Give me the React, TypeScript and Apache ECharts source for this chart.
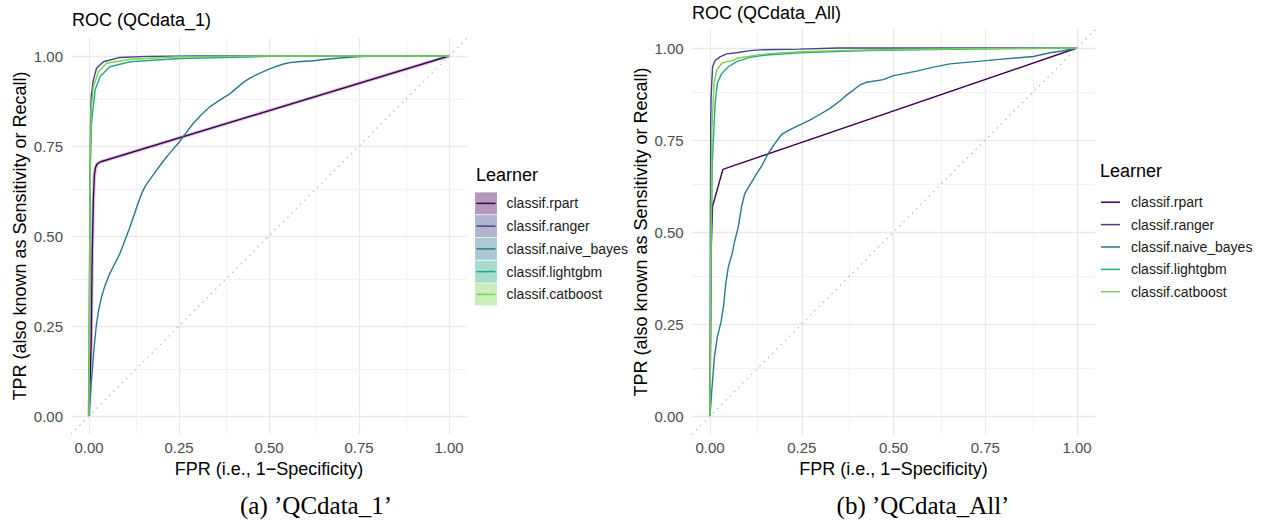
import React, { useEffect, useRef } from "react";
import * as echarts from "echarts";

const learners = [
  "classif.rpart",
  "classif.ranger",
  "classif.naive_bayes",
  "classif.lightgbm",
  "classif.catboost",
];
const learnerColors = ["#440154", "#414487", "#2A788E", "#22A884", "#7AD151"];
const learnerFills = [
  "rgba(68,1,84,0.4)",
  "rgba(65,68,135,0.4)",
  "rgba(42,120,142,0.4)",
  "rgba(34,168,132,0.4)",
  "rgba(122,209,81,0.4)",
];
const majorTicks = [0, 0.25, 0.5, 0.75, 1];
const minorTicks = [0.125, 0.375, 0.625, 0.875];
const diagonal = [
  [-0.05, -0.05],
  [1.05, 1.05],
];

// Panel (a) QCdata_1 : [FPR, TPR]
const q1Rpart = [[0, 0], [0.006, 0.2], [0.009, 0.45], [0.012, 0.6], [0.015, 0.67], [0.018, 0.69], [0.022, 0.699], [0.028, 0.704], [0.035, 0.707], [1, 1]];
const q1Ranger = [[0, 0], [0.002, 0.5], [0.004, 0.8], [0.006, 0.887], [0.012, 0.933], [0.021, 0.966], [0.04, 0.984], [0.086, 0.996], [0.16, 0.999], [0.3, 1], [1, 1]];
const q1NaiveBayes = [[0, 0], [0.007, 0.1], [0.021, 0.257], [0.035, 0.331], [0.054, 0.387], [0.086, 0.452], [0.114, 0.526], [0.151, 0.628], [0.188, 0.683], [0.216, 0.72], [0.253, 0.764], [0.29, 0.813], [0.331, 0.855], [0.364, 0.878], [0.392, 0.896], [0.438, 0.933], [0.494, 0.961], [0.549, 0.98], [0.623, 0.987], [0.716, 0.996], [0.808, 1], [1, 1]];
const q1Lightgbm = [[0, 0], [0.002, 0.45], [0.004, 0.7], [0.007, 0.813], [0.017, 0.906], [0.031, 0.943], [0.058, 0.97], [0.114, 0.984], [0.253, 0.993], [0.5, 0.999], [1, 1]];
const q1Catboost = [[0, 0], [0.002, 0.5], [0.004, 0.75], [0.006, 0.85], [0.012, 0.915], [0.026, 0.956], [0.049, 0.98], [0.114, 0.991], [0.253, 0.998], [0.5, 1], [1, 1]];

// Panel (b) QCdata_All : [FPR, TPR]
const q2Rpart = [[0, 0], [0.003, 0.45], [0.007, 0.57], [0.035, 0.67], [1, 1]];
const q2Ranger = [[0, 0], [0.001, 0.5], [0.002, 0.8], [0.003, 0.868], [0.007, 0.949], [0.014, 0.966], [0.027, 0.976], [0.045, 0.984], [0.073, 0.987], [0.109, 0.993], [0.136, 0.995], [0.245, 0.997], [0.35, 1], [1, 1]];
const q2NaiveBayes = [[0, 0], [0.005, 0.071], [0.012, 0.16], [0.02, 0.215], [0.03, 0.255], [0.037, 0.3], [0.043, 0.36], [0.05, 0.405], [0.06, 0.44], [0.068, 0.478], [0.077, 0.514], [0.086, 0.569], [0.095, 0.605], [0.109, 0.628], [0.123, 0.652], [0.141, 0.68], [0.159, 0.714], [0.177, 0.741], [0.195, 0.765], [0.218, 0.778], [0.245, 0.791], [0.272, 0.804], [0.3, 0.82], [0.327, 0.836], [0.354, 0.856], [0.372, 0.872], [0.39, 0.885], [0.409, 0.9], [0.427, 0.907], [0.472, 0.914], [0.5, 0.925], [0.563, 0.937], [0.609, 0.948], [0.654, 0.957], [0.745, 0.965], [0.79, 0.969], [0.881, 0.977], [0.926, 0.987], [0.96, 0.992], [1, 1]];
const q2Lightgbm = [[0, 0], [0.003, 0.4], [0.006, 0.687], [0.014, 0.85], [0.02, 0.904], [0.032, 0.931], [0.05, 0.949], [0.073, 0.963], [0.109, 0.975], [0.154, 0.981], [0.245, 0.987], [0.427, 0.993], [0.7, 0.997], [1, 1]];
const q2Catboost = [[0, 0], [0.002, 0.4], [0.005, 0.777], [0.011, 0.904], [0.018, 0.94], [0.032, 0.958], [0.045, 0.963], [0.064, 0.966], [0.073, 0.972], [0.109, 0.978], [0.154, 0.984], [0.245, 0.99], [0.427, 0.995], [0.7, 0.998], [1, 1]];

const panelTitles = ["ROC (QCdata_1)", "ROC (QCdata_All)"];
const captions = ["(a) \u2019QCdata_1\u2019", "(b) \u2019QCdata_All\u2019"];
const xTitle = "FPR (i.e., 1\u2212Specificity)";
const yTitle = "TPR (also known as Sensitivity or Recall)";

const panelData = [
  [q1Rpart, q1Ranger, q1NaiveBayes, q1Lightgbm, q1Catboost],
  [q2Rpart, q2Ranger, q2NaiveBayes, q2Lightgbm, q2Catboost],
];

const SANS = "'Liberation Sans', Arial, sans-serif";
const SERIF = "'Liberation Serif', 'Times New Roman', serif";

export default function App() {
  const ref = useRef<HTMLDivElement>(null);

  useEffect(() => {
    if (!ref.current) return;
    const chart = echarts.init(ref.current, undefined, { renderer: "svg" });

    const grids = [
      { left: 71, top: 38, width: 396, height: 396 },
      { left: 691.65, top: 29.6, width: 403.7, height: 404.8 },
    ];

    const gridLineData: any[] = [];
    majorTicks.forEach((v) => {
      gridLineData.push({ xAxis: v, lineStyle: { color: "#e9e9e9", width: 1.3, type: "solid" } });
      gridLineData.push({ yAxis: v, lineStyle: { color: "#e9e9e9", width: 1.3, type: "solid" } });
    });
    minorTicks.forEach((v) => {
      gridLineData.push({ xAxis: v, lineStyle: { color: "#f1f1f1", width: 0.9, type: "solid" } });
      gridLineData.push({ yAxis: v, lineStyle: { color: "#f1f1f1", width: 0.9, type: "solid" } });
    });

    const xAxes = grids.map((_, p) => ({
      type: "value",
      gridIndex: p,
      min: -0.05,
      max: 1.05,
      axisLine: { show: false },
      axisTick: { show: false },
      splitLine: { show: false },
      axisLabel: {
        customValues: majorTicks,
        formatter: (v: number) => v.toFixed(2),
        color: "#4D4D4D",
        fontSize: 15,
        margin: 6,
        fontFamily: SANS,
      },
      name: xTitle,
      nameLocation: "middle",
      nameGap: 25,
      nameTextStyle: { fontSize: 18, color: "#000", fontFamily: SANS },
    }));

    const yAxes = grids.map((_, p) => ({
      type: "value",
      gridIndex: p,
      min: -0.05,
      max: 1.05,
      axisLine: { show: false },
      axisTick: { show: false },
      splitLine: { show: false },
      axisLabel: {
        customValues: majorTicks,
        formatter: (v: number) => v.toFixed(2),
        color: "#4D4D4D",
        fontSize: 15,
        margin: 8,
        fontFamily: SANS,
      },
      name: yTitle,
      nameLocation: "middle",
      nameRotate: 90,
      nameGap: 42,
      nameTextStyle: { fontSize: 18, color: "#000", fontFamily: SANS },
    }));

    const series: any[] = [];
    grids.forEach((_, p) => {
      series.push({
        name: "reference-" + p,
        type: "line",
        xAxisIndex: p,
        yAxisIndex: p,
        data: diagonal,
        symbol: "none",
        silent: true,
        z: 1,
        lineStyle: { color: "#b8b8b8", width: 1.2, type: [1.5, 4.5] },
        markLine: {
          silent: true,
          symbol: ["none", "none"],
          z: 0,
          label: { show: false },
          emphasis: { disabled: true },
          data: gridLineData,
        },
      });
    });
    // ribbon-like halo around rpart in panel (a)
    series.push({
      name: "rpart-band",
      type: "line",
      xAxisIndex: 0,
      yAxisIndex: 0,
      data: q1Rpart,
      symbol: "none",
      silent: true,
      smooth: false,
      z: 2,
      lineStyle: { color: learnerColors[0], width: 3.6, opacity: 0.22 },
    });
    panelData.forEach((curves, p) => {
      curves.forEach((d, i) => {
        series.push({
          name: learners[i],
          type: "line",
          xAxisIndex: p,
          yAxisIndex: p,
          data: d,
          symbol: "none",
          showSymbol: false,
          silent: true,
          smooth: p === 0 && i === 2 ? 0.3 : false,
          z: 3,
          itemStyle: { color: learnerColors[i] },
          lineStyle: { color: learnerColors[i], width: 1.4 },
        });
      });
    });

    const lineLegend = (left: number, top: number, lh: number) => ({
      left,
      top,
      orient: "vertical",
      icon: "rect",
      itemWidth: 19,
      itemHeight: 1.5,
      itemGap: 0,
      padding: 0,
      selectedMode: false,
      z: 3,
      data: learners,
      textStyle: { color: "#1a1a1a", fontSize: 14, lineHeight: lh, fontFamily: SANS, padding: [0, 0, 0, 6] },
    });

    const option: any = {
      animation: false,
      backgroundColor: "#ffffff",
      textStyle: { fontFamily: SANS },
      title: [
        { text: panelTitles[0], left: 72, top: 11, padding: 0, textStyle: { fontSize: 18, fontWeight: "normal", color: "#000", fontFamily: SANS } },
        { text: panelTitles[1], left: 692, top: 4, padding: 0, textStyle: { fontSize: 18, fontWeight: "normal", color: "#000", fontFamily: SANS } },
        { text: "Learner", left: 476, top: 166, padding: 0, textStyle: { fontSize: 18, fontWeight: "normal", color: "#000", fontFamily: SANS } },
        { text: "Learner", left: 1100, top: 162, padding: 0, textStyle: { fontSize: 18, fontWeight: "normal", color: "#000", fontFamily: SANS } },
      ],
      grid: grids,
      xAxis: xAxes,
      yAxis: yAxes,
      legend: [
        {
          left: 475,
          top: 192,
          orient: "vertical",
          icon: "rect",
          itemWidth: 22,
          itemHeight: 22,
          itemGap: 0,
          padding: 0,
          selectedMode: false,
          z: 1,
          data: learners.map((n, i) => ({ name: n, itemStyle: { color: learnerFills[i] } })),
          textStyle: { color: "rgba(0,0,0,0)", fontSize: 14, lineHeight: 22.75, fontFamily: SANS, padding: [0, 0, 0, 6] },
        },
        lineLegend(476.5, 192, 22.75),
        lineLegend(1101, 191, 22.4),
      ],
      graphic: [
        { type: "text", x: 316, y: 505, style: { text: captions[0], align: "center", verticalAlign: "middle", font: "25px " + SERIF, fill: "#000" } },
        { type: "text", x: 923, y: 505, style: { text: captions[1], align: "center", verticalAlign: "middle", font: "25px " + SERIF, fill: "#000" } },
      ],
      series,
    };

    chart.setOption(option);
    return () => chart.dispose();
  }, []);

  return (
    <div
      ref={ref}
      style={{ position: "absolute", left: 0, top: 0, width: 1268, height: 525, background: "#fff" }}
    />
  );
}
